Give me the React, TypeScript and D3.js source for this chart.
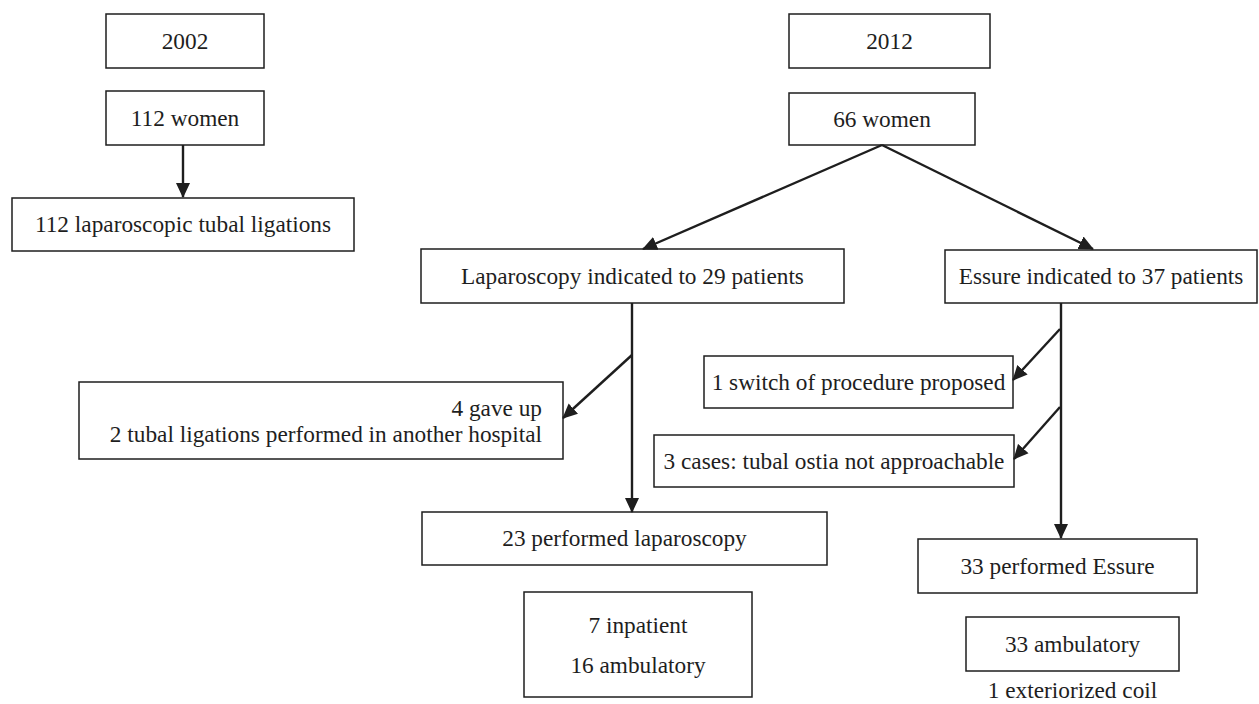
import { useMemo } from 'react';
import * as d3 from 'd3';

// ---- labels (the data) ----
const years = ['2002', '2012'];
const cohorts = ['112 women', '66 women'];
const outcome2002 = ['112 laparoscopic tubal ligations'];
const indications = ['Laparoscopy indicated to 29 patients', 'Essure indicated to 37 patients'];
const lapExclusions = ['4 gave up', '2 tubal ligations performed in another hospital'];
const essureExclusions = ['1 switch of procedure proposed', '3 cases: tubal ostia not approachable'];
const performed = ['23 performed laparoscopy', '33 performed Essure'];
const lapSetting = ['7 inpatient', '16 ambulatory'];
const essureSetting = ['33 ambulatory'];
const essureNote = ['1 exteriorized coil'];

const WIDTH = 1259;
const HEIGHT = 704;
const FONT = "'Liberation Serif', 'Times New Roman', 'DejaVu Serif', serif";
const FONT_SIZE = 23.3;
const INK = '#1e1e1e';

type Node = {
  id: string;
  x0: number;
  y0: number;
  x1: number;
  y1: number;
  lines: string[];
  align?: 'middle' | 'end';
  baselines?: number[];
  textX?: number;
  border?: boolean;
};

// layout of the boxes (pixel positions)
const nodes: Node[] = [
  { id: 'y2002', x0: 106, y0: 14, x1: 264, y1: 68, lines: [years[0]] },
  { id: 'w2002', x0: 106, y0: 91, x1: 264, y1: 145, lines: [cohorts[0]] },
  { id: 'lap2002', x0: 12, y0: 198, x1: 354, y1: 251, lines: outcome2002 },
  { id: 'y2012', x0: 789, y0: 14, x1: 990, y1: 68, lines: [years[1]] },
  { id: 'w2012', x0: 789, y0: 93, x1: 975, y1: 145, lines: [cohorts[1]] },
  { id: 'lapInd', x0: 421, y0: 249, x1: 844, y1: 303, lines: [indications[0]] },
  { id: 'essInd', x0: 945, y0: 250, x1: 1257, y1: 303, lines: [indications[1]] },
  {
    id: 'lapExc', x0: 79, y0: 382, x1: 563, y1: 459, lines: lapExclusions,
    align: 'end', textX: 542, baselines: [416, 442],
  },
  { id: 'essExc1', x0: 704, y0: 356, x1: 1013, y1: 408, lines: [essureExclusions[0]] },
  { id: 'essExc2', x0: 654, y0: 435, x1: 1014, y1: 487, lines: [essureExclusions[1]] },
  { id: 'lapDone', x0: 422, y0: 512, x1: 827, y1: 565, lines: [performed[0]] },
  { id: 'essDone', x0: 918, y0: 539, x1: 1197, y1: 593, lines: [performed[1]] },
  { id: 'lapSet', x0: 524, y0: 592, x1: 752, y1: 697, lines: lapSetting, baselines: [633, 673] },
  { id: 'essSet', x0: 966, y0: 617, x1: 1179, y1: 671, lines: essureSetting },
  { id: 'essNote', x0: 966, y0: 680, x1: 1179, y1: 700, lines: essureNote, baselines: [698], border: false },
];

// arrows: [from, to] points
const arrows: [number, number][][] = [
  [[183, 145], [183, 197]],
  [[882, 145], [643, 249]],
  [[882, 145], [1093, 249]],
  [[632, 303], [632, 512]],
  [[632, 355], [563, 418]],
  [[1061, 303], [1061, 538]],
  [[1060, 329], [1013, 380]],
  [[1060, 407], [1014, 459]],
];

export default function App() {
  const line = useMemo(() => d3.line<[number, number]>().x((d) => d[0]).y((d) => d[1]), []);

  return (
    <svg
      width={WIDTH}
      height={HEIGHT}
      style={{ position: 'absolute', left: 0, top: 0, background: '#fff' }}
    >
      <defs>
        <marker
          id="head"
          viewBox="0 0 15 15"
          refX={14}
          refY={7.5}
          markerWidth={15}
          markerHeight={15}
          markerUnits="userSpaceOnUse"
          orient="auto"
        >
          <path d="M0,0.5 L15,7.5 L0,14.5 Z" fill={INK} />
        </marker>
      </defs>

      {nodes.map((n) => {
        const cx = (n.x0 + n.x1) / 2;
        const cy = (n.y0 + n.y1) / 2;
        return (
          <g key={n.id}>
            {n.border !== false && (
              <rect
                x={n.x0}
                y={n.y0}
                width={n.x1 - n.x0}
                height={n.y1 - n.y0}
                fill="#fff"
                stroke={INK}
                strokeWidth={1.5}
              />
            )}
            {n.lines.map((t, i) => (
              <text
                key={i}
                x={n.textX ?? cx}
                y={n.baselines ? n.baselines[i] : cy}
                dy={n.baselines ? 0 : '0.33em'}
                textAnchor={n.align ?? 'middle'}
                style={{ fontFamily: FONT, fontSize: `${FONT_SIZE}px` }}
                fill={INK}
              >
                {t}
              </text>
            ))}
          </g>
        );
      })}

      {arrows.map((a, i) => (
        <path
          key={i}
          d={line(a) || ''}
          stroke={INK}
          strokeWidth={2.4}
          fill="none"
          markerEnd="url(#head)"
        />
      ))}
    </svg>
  );
}
